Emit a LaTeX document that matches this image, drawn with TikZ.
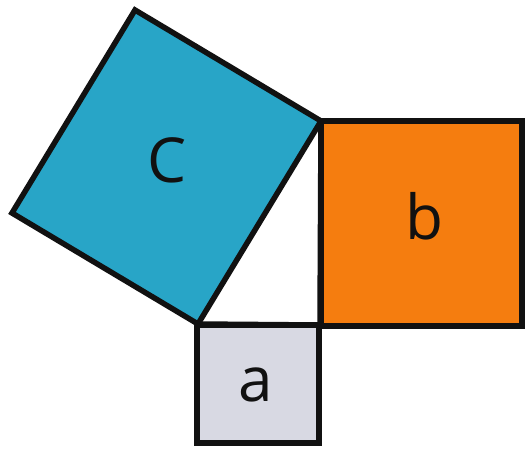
\documentclass[tikz,border=0pt]{standalone}
\usepackage{fontspec}
\setmainfont{Open Sans}
\usepackage{xcolor}
\usepackage{tikz}
\usetikzlibrary{calc}
\definecolor{sqteal}{HTML}{28A5C7}
\definecolor{sqorange}{HTML}{F57D0F}
\definecolor{sqgrey}{HTML}{D8D9E3}
\definecolor{ink}{HTML}{111111}
\tikzset{
    every picture/.style={line cap=round,line join=round},
    sqface/.style={draw=ink,line width=5.5pt,line join=miter},
    sqlabel/.style={text=ink,font=\fontsize{62}{70}\selectfont,inner sep=0pt}
}
\begin{document}
\begin{tikzpicture}[x=1pt,y=-1pt]
  \useasboundingbox (0,0) rectangle (526,450);
  % corners of the right triangle
  \coordinate (lft) at (198,324);
  \coordinate (rgt) at (320,325);
  \coordinate (top) at (321,121);
  % outer corners of the hypotenuse square
  \coordinate (ctop) at (135,10);
  \coordinate (clft) at (12,213);
  % squares
  \draw[sqface,fill=sqgrey] (197,325) rectangle (319,443);
  \draw[sqface,fill=sqorange] (top) rectangle (522,326);
  \draw[sqface,fill=sqteal] (lft) -- (top) -- (ctop) -- (clft) -- cycle;
  \draw[sqface] (lft) -- (rgt) -- (top);
  % labels
  \node[sqlabel] (la) at (256,385) {a};
  \node[sqlabel] (lb) at (424,216) {b};
  \node[sqlabel] (lc) at (167,160) {C};
\end{tikzpicture}
\end{document}
